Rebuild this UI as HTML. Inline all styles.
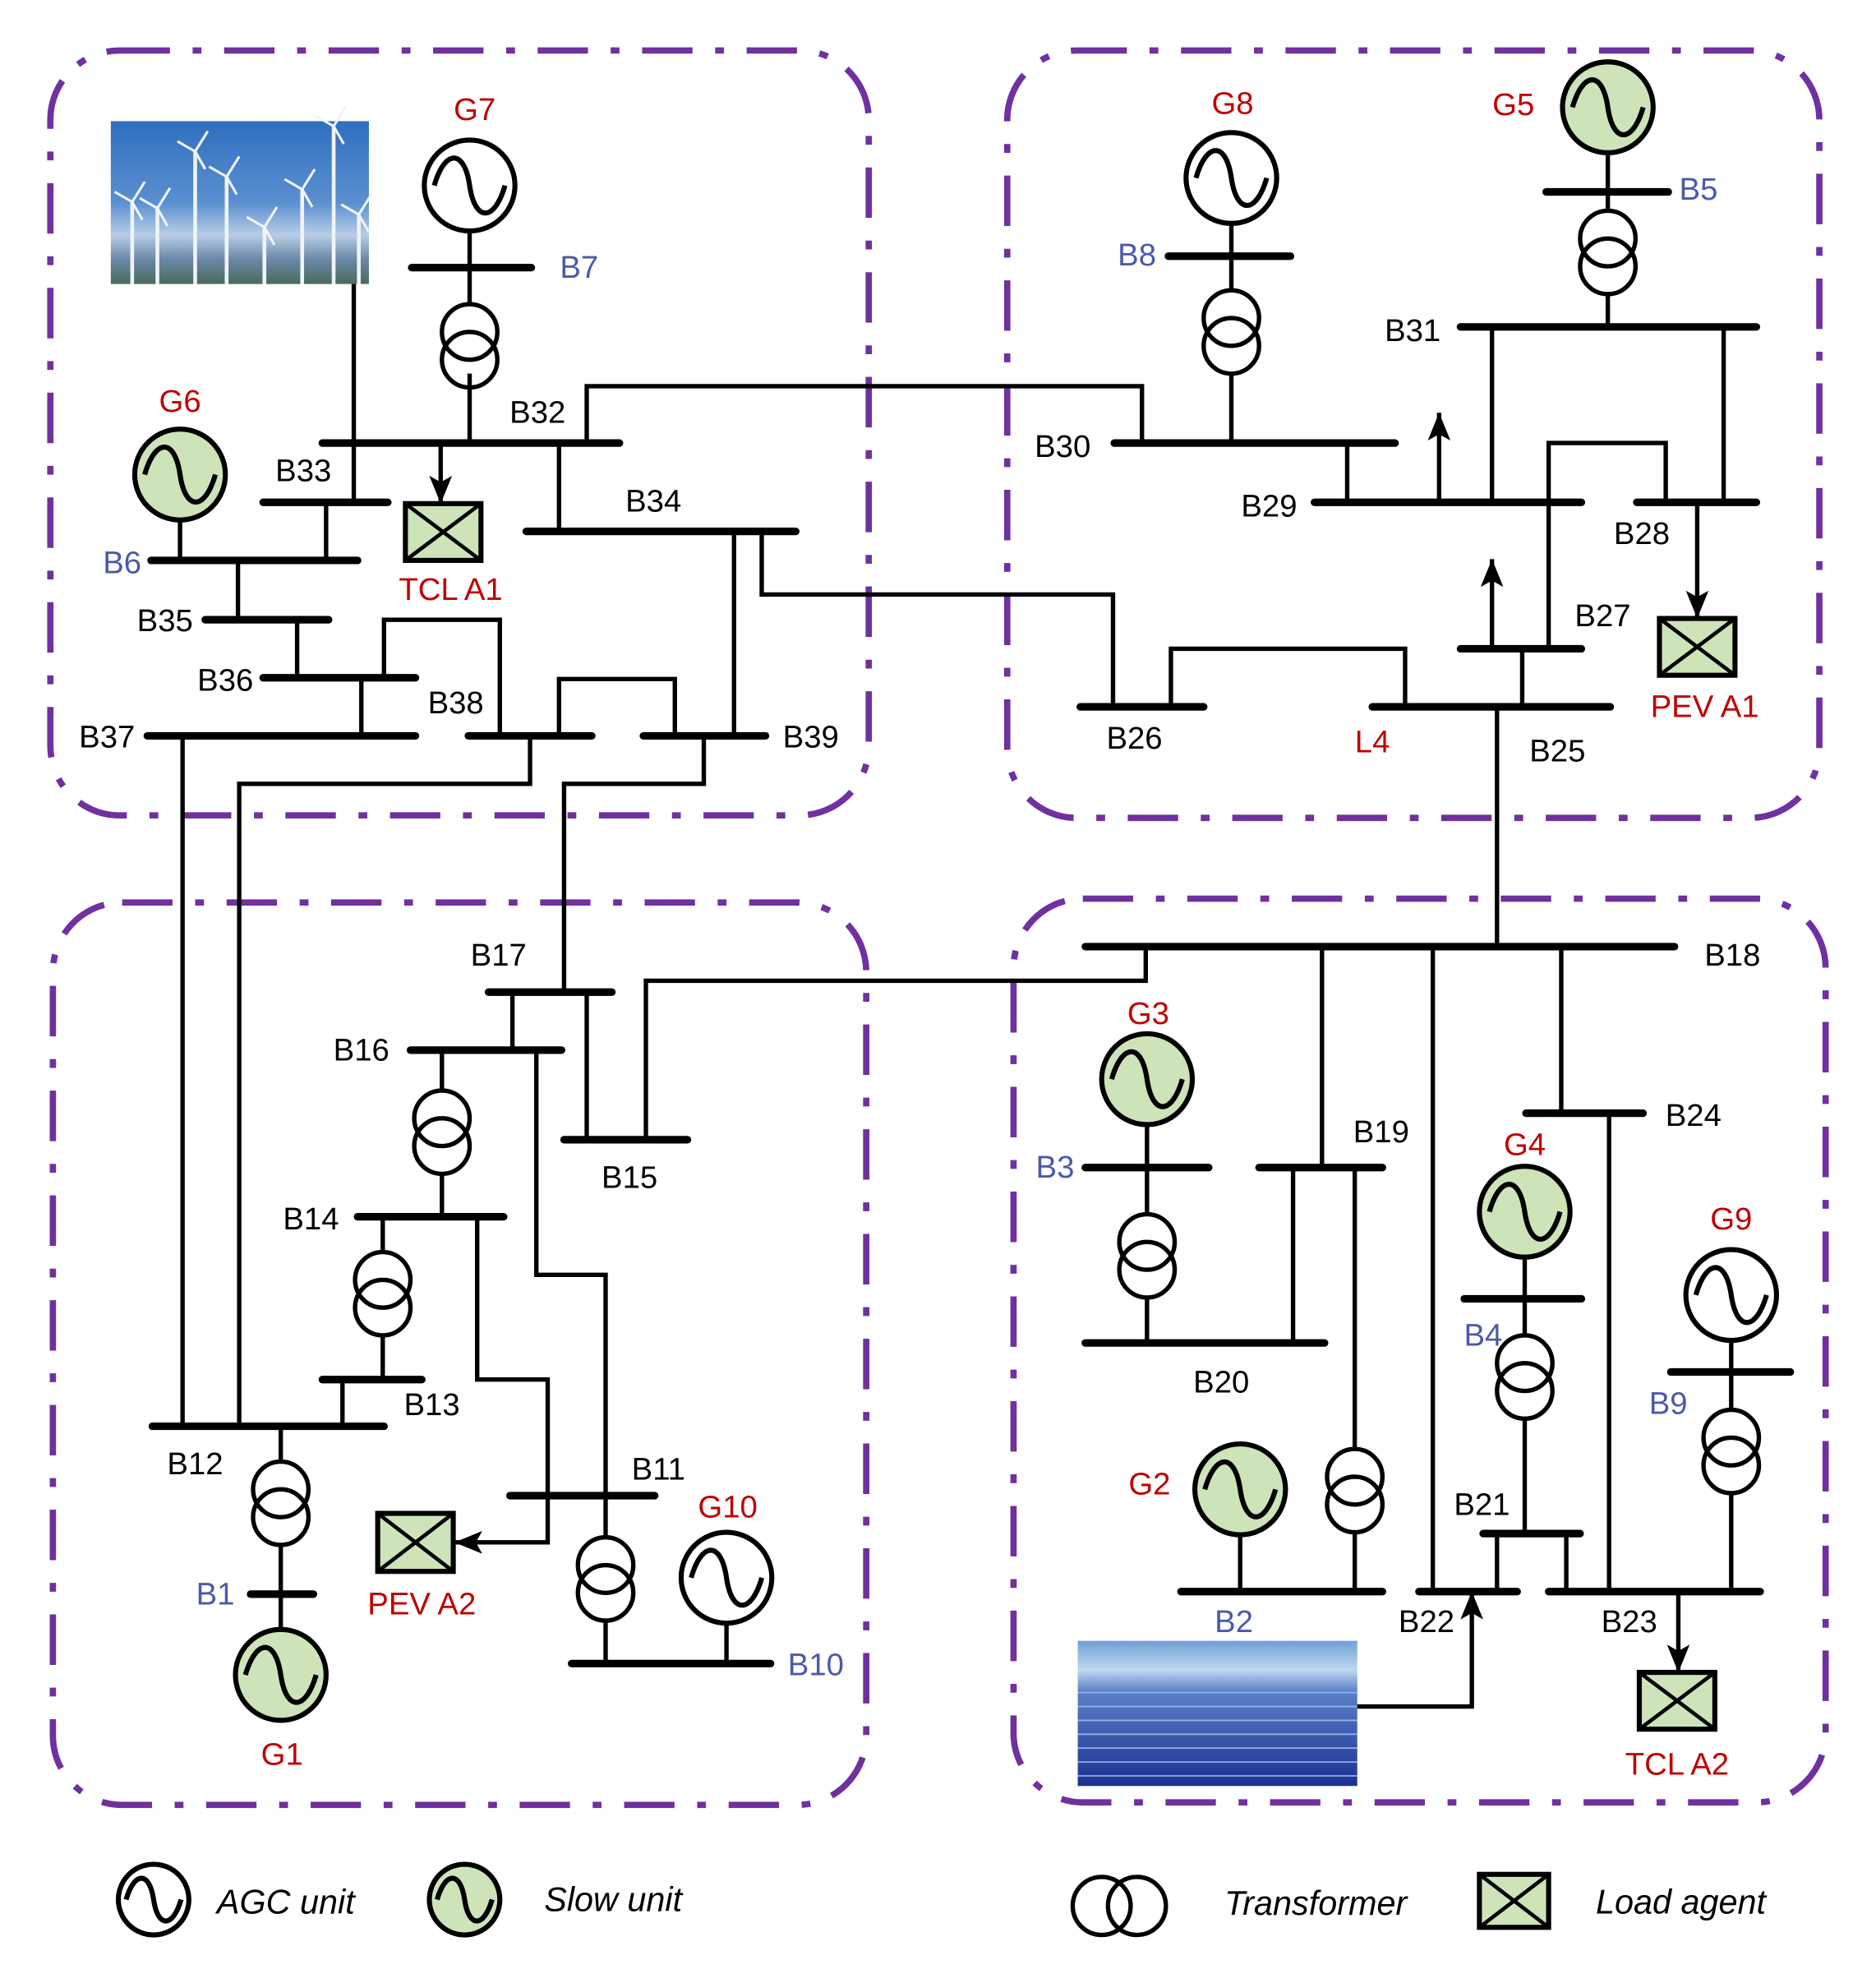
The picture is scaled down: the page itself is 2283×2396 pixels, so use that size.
<!DOCTYPE html>
<html><head><meta charset="utf-8"><style>
html,body{margin:0;padding:0;background:#fff;}
svg{display:block;}
text{font-family:"Liberation Sans",sans-serif;font-size:25px;dominant-baseline:central;text-anchor:middle;}
.r{fill:#c00000}.b{fill:#4a5aaa}.k{fill:#000}
</style></head><body>
<svg id="s" width="2283" height="2396" viewBox="0 0 1490 1560" preserveAspectRatio="none" xmlns="http://www.w3.org/2000/svg">
<defs>
<linearGradient id="wind" x1="0" y1="0" x2="0" y2="1"><stop offset="0" stop-color="#2f6fbf"/><stop offset="0.5" stop-color="#5a8fd0"/><stop offset="0.7" stop-color="#b8cde6"/><stop offset="0.85" stop-color="#6a88a8"/><stop offset="1" stop-color="#4a6a5a"/></linearGradient>
<linearGradient id="sol" x1="0" y1="0" x2="0" y2="1"><stop offset="0" stop-color="#6fa0d8"/><stop offset="0.2" stop-color="#c0d8ee"/><stop offset="0.35" stop-color="#5a7fc8"/><stop offset="1" stop-color="#1c2f90"/></linearGradient>
<marker id="ah" markerWidth="22" markerHeight="18" refX="22" refY="9" orient="auto" markerUnits="userSpaceOnUse" viewBox="0 0 22 18"><path d="M0,0 L22,9 L0,18 L5,9z" fill="#000"/></marker>
</defs>
<g id="g" fill="none" stroke="#000" stroke-width="3.5"></g>
</svg>
<script>
var g=document.getElementById('g'),NS='http://www.w3.org/2000/svg';
function el(t,a,p){var e=document.createElementNS(NS,t);for(var k in a)e.setAttribute(k,a[k]);(p||g).appendChild(e);return e;}
function L(pts,w){el('polyline',{points:pts,'stroke-width':w||3.5});}
function bus(x1,x2,y){el('line',{x1:x1,y1:y,x2:x2,y2:y,'stroke-width':6,'stroke-linecap':'round'});}
function gen(cx,cy,slow,r){r=r||36;el('circle',{cx:cx,cy:cy,r:r,fill:slow?'#cde3b8':'#fff','stroke-width':4});
var a=r*0.78,h=r*0.62;el('path',{d:'M'+(cx-a)+','+cy+' C'+(cx-a*0.7)+','+(cy-h*1.3)+' '+(cx-a*0.15)+','+(cy-h*1.3)+' '+cx+','+cy+' C'+(cx+a*0.15)+','+(cy+h*1.3)+' '+(cx+a*0.7)+','+(cy+h*1.3)+' '+(cx+a)+','+cy,'stroke-width':4});}
function tr(cx,cy){el('circle',{cx:cx,cy:cy-11,r:22,'stroke-width':3.5});el('circle',{cx:cx,cy:cy+11,r:22,'stroke-width':3.5});}
function trh(cx,cy){el('circle',{cx:cx-14,cy:cy,r:23,'stroke-width':3.5});el('circle',{cx:cx+14,cy:cy,r:23,'stroke-width':3.5});}
function box(x,y,w,h){el('rect',{x:x,y:y,width:w,height:h,fill:'#cde3b8','stroke-width':4});el('path',{d:'M'+x+','+y+'L'+(x+w)+','+(y+h)+'M'+(x+w)+','+y+'L'+x+','+(y+h),'stroke-width':3});}
function arr(pts){el('polyline',{points:pts,'stroke-width':3.5,'marker-end':'url(#ah)'});}
function T(x,y,s,c,it){var e=el('text',{x:x,y:y,'class':c||'k',stroke:'none'},document.getElementById('s'));if(it){e.setAttribute('font-style','italic');e.style.fontSize='27px';}e.textContent=s;}
var rp={stroke:'#7030a0','stroke-width':5,'stroke-dasharray':'40 18 7 18',fill:'none'};
function reg(x1,y1,x2,y2){var a={x:x1,y:y1,width:x2-x1,height:y2-y1,rx:55,ry:55};for(var k in rp)a[k]=rp[k];el('rect',a);}
reg(40,40,690,646);reg(800,40,1445,648);reg(42,715,688,1430);reg(805,712,1450,1428);
el('rect',{x:88,y:96,width:205,height:129,fill:'url(#wind)',stroke:'none'});
var tw=[[105,160],[125,165],[155,120],[180,140],[210,180],[240,150],[265,100],[285,170]];
tw.forEach(function(t){el('line',{x1:t[0],y1:t[1],x2:t[0],y2:225,stroke:'#f0f4fa','stroke-width':3});el('path',{d:'M'+(t[0]-14)+','+(t[1]-8)+'L'+t[0]+','+t[1]+'L'+(t[0]+10)+','+(t[1]-16)+'M'+t[0]+','+t[1]+'L'+(t[0]+8)+','+(t[1]+14),stroke:'#f0f4fa','stroke-width':2});});
el('rect',{x:856,y:1300,width:222,height:115,fill:'url(#sol)',stroke:'none'});
for(var i=0;i<8;i++){el('line',{x1:856,y1:1330+i*11,x2:1078,y2:1330+i*11,stroke:'#8fb0e8','stroke-width':1.2});}
// TL
gen(373,147,0);L('373,183 373,240');bus(327,422,212);tr(373,274);L('373,296 373,351');bus(256,492,351);
L('281,225 281,398');bus(209,308,398);arr('350,351 350,399');box(322,399,60,45);
L('444,351 444,421');bus(418,632,421);L('466,351 466,306 907,306 907,351');bus(885,1108,351);
gen(143,376,1);L('143,412 143,444');bus(120,284,444);L('259,398 259,444');
L('189,444 189,491');bus(163,261,491);L('236,491 236,537');bus(209,330,537);L('287,537 287,583');bus(117,330,583);
L('305,537 305,491 397,491 397,583');bus(372,470,583);L('444,583 444,538 536,538 536,583');bus(511,608,583);
L('583,421 583,583');L('605,421 605,471 884,471 884,560');bus(858,956,560);
L('145,583 145,1130');L('421,583 421,621 190,621 190,1130');L('559,583 559,621 448,621 448,786');
// BL
bus(388,486,786);L('407,786 407,832');bus(326,446,832);L('466,786 466,903');bus(448,546,903);
L('513,903 513,777 910,777 910,750');bus(862,1330,750);
L('351,832 351,864');tr(351,897);L('351,930 351,964');bus(284,400,964);
L('426,832 426,1010 481,1010 481,1185');bus(405,520,1185);
L('304,964 304,992');tr(304,1025);L('304,1058 304,1093');bus(256,335,1093);L('272,1093 272,1130');bus(121,305,1130);
arr('379,964 379,1093 435,1093 435,1222 361,1222');box(300,1199,60,46);
L('223,1130 223,1158');tr(223,1191);L('223,1224 223,1263');bus(199,249,1263);L('223,1263 223,1291');gen(223,1327,1);
L('481,1185 481,1218');tr(481,1251);L('481,1284 481,1318');bus(454,612,1318);gen(577,1250,0);L('577,1286 577,1318');
// TR
gen(978,141,0);L('978,177 978,230');bus(928,1025,203);tr(978,263);L('978,296 978,351');
gen(1277,85,1);L('1277,121 1277,167');bus(1228,1325,152);tr(1277,200);L('1277,233 1277,259');bus(1160,1395,259);
L('1070,351 1070,398');bus(1044,1256,398);arr('1143,398 1143,327');
L('1185,259 1185,398');L('1369,259 1369,398');bus(1300,1395,398);
L('1230,514 1230,351 1323,351 1323,398');bus(1160,1256,514);arr('1185,514 1185,443');
arr('1348,398 1348,490');box(1318,490,60,45);
L('1209,514 1209,560');bus(1090,1279,560);L('930,560 930,514 1116,514 1116,560');L('1189,560 1189,750');
// BR
gen(911,855,1);L('911,891 911,925');bus(862,960,925);L('911,925 911,962');tr(911,995);L('911,1028 911,1064');bus(862,1052,1064);
L('1050,750 1050,925');bus(1000,1098,925);L('1027,925 1027,1064');L('1076,925 1076,1148');tr(1076,1181);L('1076,1214 1076,1261');
bus(938,1098,1261);gen(985,1180,1);L('985,1216 985,1261');
L('1138,750 1138,1261');bus(1127,1205,1261);L('1240,750 1240,882');bus(1212,1305,882);L('1278,882 1278,1261');bus(1230,1398,1261);
gen(1211,960,1);L('1211,996 1211,1058');bus(1163,1256,1029);tr(1211,1091);L('1211,1124 1211,1215');bus(1178,1255,1215);
L('1189,1215 1189,1261');L('1244,1215 1244,1261');
gen(1375,1026,0);L('1375,1062 1375,1117');bus(1327,1422,1087);tr(1375,1150);L('1375,1183 1375,1261');
arr('1333,1261 1333,1325');box(1302,1325,60,45);
arr('1078,1352 1169,1352 1169,1261');
// legend
gen(122,1505,0,28);gen(369,1505,1,28);trh(889,1510);box(1175,1485,55,42);
// labels
T(377,87,'G7','r');T(460,212,'B7','b');T(427,327,'B32');T(241,373,'B33');T(358,467,'TCL A1','r');T(519,397,'B34');
T(143,318,'G6','r');T(97,446,'B6','b');T(131,492,'B35');T(179,539,'B36');T(85,584,'B37');T(362,557,'B38');T(644,584,'B39');
T(844,354,'B30');T(901,585,'B26');T(396,757,'B17');T(287,832,'B16');T(500,933,'B15');T(1376,757,'B18');
T(247,966,'B14');T(523,1164,'B11');T(343,1113,'B13');T(155,1160,'B12');T(335,1271,'PEV A2','r');
T(171,1263,'B1','b');T(224,1390,'G1','r');T(578,1194,'G10','r');T(648,1319,'B10','b');
T(979,82,'G8','r');T(903,202,'B8','b');T(1202,83,'G5','r');T(1349,150,'B5','b');T(1122,262,'B31');
T(1008,401,'B29');T(1304,423,'B28');T(1273,488,'B27');T(1354,560,'PEV A1','r');T(1237,595,'B25');T(1090,588,'L4','r');
T(912,803,'G3','r');T(838,925,'B3','b');T(970,1095,'B20');T(1097,897,'B19');T(913,1176,'G2','r');T(980,1285,'B2','b');
T(1133,1285,'B22');T(1345,884,'B24');T(1294,1285,'B23');T(1211,907,'G4','r');T(1178,1058,'B4','b');T(1177,1192,'B21');
T(1375,966,'G9','r');T(1325,1112,'B9','b');T(1332,1398,'TCL A2','r');
T(227,1507,'AGC unit','k',1);T(487,1505,'Slow unit','k',1);T(1045,1508,'Transformer','k',1);T(1335,1507,'Load agent','k',1);
</script>
</body></html>
